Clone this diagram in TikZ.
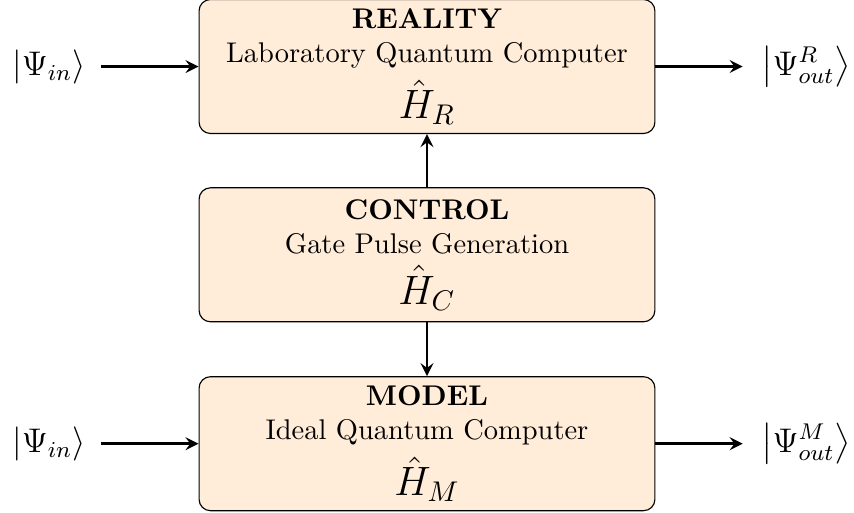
\documentclass[tikz,border=0pt]{standalone}
\usepackage{amsmath,amssymb}
\usetikzlibrary{arrows,shapes,positioning}

\begin{document}
\begin{tikzpicture}[x=0.01234cm,y=-0.01234cm,
    block/.style={draw,rounded corners=4pt,fill=orange!15,minimum width=5.627cm,minimum height=1.654cm,align=center,inner sep=0pt},
    ket/.style={font=\large},
    link/.style={line width=1pt,-stealth}]
    \useasboundingbox (0,0) rectangle (854,512);

    \node[block] (reality) at (427,66.5) {\textbf{REALITY}\\Laboratory Quantum Computer\\[3pt]{\Large $\hat{H}_R$}};
    \node[block] (control) at (427,254.8) {\textbf{CONTROL}\\Gate Pulse Generation\\[3pt]{\Large $\hat{H}_C$}};
    \node[block] (model) at (427,443.7) {\textbf{MODEL}\\Ideal Quantum Computer\\[3pt]{\Large $\hat{H}_M$}};

    \node[ket] (inR) at (49,66.5) {$\left|\Psi_{in}\right\rangle$};
    \node[ket] (outR) at (806,66.5) {$\left|\Psi^R_{out}\right\rangle$};
    \node[ket] (inM) at (49,443.7) {$\left|\Psi_{in}\right\rangle$};
    \node[ket] (outM) at (806,443.7) {$\left|\Psi^M_{out}\right\rangle$};

    \draw[link,shorten <=2pt] (inR) -- (reality);
    \draw[link,shorten >=3pt] (reality) -- (outR);
    \draw[link,shorten <=2pt] (inM) -- (model);
    \draw[link,shorten >=3pt] (model) -- (outM);
    \draw[link] (control) -- (reality);
    \draw[link] (control) -- (model);
\end{tikzpicture}
\end{document}
